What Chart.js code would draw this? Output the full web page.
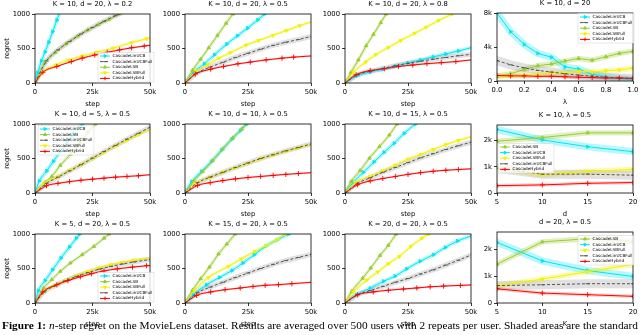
<!DOCTYPE html>
<html>
<head>
<meta charset="utf-8">
<script src="https://cdn.jsdelivr.net/npm/chart.js@4.4.0/dist/chart.umd.min.js"></script>
<style>
  body { margin: 0; width: 640px; height: 335px; overflow: hidden; position: relative; background: #fff; }
  canvas { position: absolute; }
  .cap { position: absolute; left: 2px; top: 321px; font-family: "Liberation Serif", serif; font-size: 10.6px; line-height: 1; white-space: nowrap; color: #000; transform-origin: 0 0; }
</style>
</head>
<body>
<div id="wrap"></div>
<div class="cap" id="cap"><b>Figure 1:</b> <i>n</i>-step regret on the MovieLens dataset. Results are averaged over 500 users with 2 repeats per user. Shaded areas are the standard</div>
<script>
// ---- data: [step, regret] ----
// row 1
const a_ucb  = [[0,0],[1200,150],[2800,320],[4400,450],[6000,590],[7700,745],[9500,910],[11300,1070]]
const a_ucbf = [[0,0],[5000,320],[10000,480],[15000,600],[20000,710],[25000,805],[30000,895],[35000,975],[40000,1055]]
const a_lsb  = [[0,0],[4400,300],[8800,445],[13500,570],[18500,680],[23000,770],[27500,845],[32000,920],[36500,1000],[40000,1050]]
const a_lsbf = [[0,0],[3700,165],[9000,260],[14300,330],[20500,390],[27000,445],[34000,505],[42000,585],[48500,640],[50000,655]]
const a_hyb  = [[0,0],[3400,155],[9500,240],[15800,310],[20500,360],[26000,405],[31400,445],[36800,480],[42000,510],[47500,535],[50000,548]]

const b_ucb  = [[0,0],[3300,150],[7700,280],[11700,410],[16600,565],[20800,685],[24800,795],[28900,915],[31500,1000],[34000,1080]]
const b_ucbf = [[0,0],[5000,150],[10000,230],[15000,300],[20000,370],[25000,430],[30000,490],[35000,545],[40000,590],[45000,630],[50000,675]]
const b_lsb  = [[0,0],[3000,185],[6200,345],[9400,510],[12900,690],[16300,865],[19000,1000],[21000,1100]]
const b_lsbf = [[0,0],[4400,170],[9000,265],[13500,360],[18000,440],[24300,550],[29200,615],[34900,690],[40200,760],[45500,830],[50000,885]]
const b_hyb  = [[0,0],[4100,130],[10200,200],[15300,240],[21000,278],[25900,303],[32200,335],[38500,360],[43100,375],[50000,392]]

const c_ucb  = [[0,0],[5000,110],[10000,160],[15000,200],[20000,245],[25000,290],[30000,335],[35000,380],[40000,420],[45000,465],[50000,510]]
const c_ucbf = [[0,0],[5000,120],[10000,170],[15000,210],[20000,250],[25000,285],[30000,315],[35000,345],[40000,370],[45000,395],[50000,415]]
const c_lsb  = [[0,0],[2400,155],[5300,335],[8400,540],[11300,705],[14200,875],[16300,1000],[18000,1100]]
const c_lsbf = [[0,0],[3300,155],[8200,305],[12200,410],[17200,515],[22100,615],[27600,720],[32200,808],[37100,905],[42500,1000],[45000,1050]]
const c_hyb  = [[0,0],[4400,120],[10000,180],[15600,207],[21200,240],[26900,260],[32500,280],[38200,295],[44000,310],[50000,335]]

const lambdas = [0, 0.1, 0.2, 0.3, 0.4, 0.5, 0.6, 0.7, 0.8, 0.9, 1.0]
const l_ucb  = [8000, 5800, 4300, 3250, 2800, 1650, 1400, 800, 500, 300, 100]
const l_ucbf = [2400, 1900, 1550, 1250, 1050, 850, 700, 550, 450, 350, 300]
const l_lsb  = [550, 850, 1350, 1800, 2000, 2350, 2650, 2450, 2850, 3250, 3500]
const l_lsbf = [600, 600, 650, 750, 950, 950, 1150, 1050, 1200, 1300, 1500]
const l_hyb  = [650, 600, 600, 550, 550, 500, 450, 400, 350, 350, 300]

// row 2
const e_ucb  = [[0,0],[1900,175],[5100,320],[8000,460],[11000,600],[14000,740],[17000,870],[20500,1000],[22000,1060]]
const e_lsb  = [[0,0],[4400,155],[7300,240],[11000,400],[15400,560],[19400,730],[23000,880],[26300,1000],[28000,1060]]
const e_ucbf = [[0,0],[5000,140],[10000,230],[15000,320],[20000,410],[25000,505],[30000,600],[35000,690],[40000,780],[45000,865],[50000,955]]
const e_lsbf = [[0,0],[4000,145],[10000,235],[15000,325],[20000,410],[25000,500],[30000,590],[35000,680],[40000,765],[45000,845],[50000,920]]
const e_hyb  = [[0,0],[5000,105],[10000,140],[15000,165],[20000,185],[25000,200],[30000,215],[35000,230],[40000,240],[45000,250],[50000,265]]

const f_ucb  = [[0,0],[2700,165],[6600,312],[10600,457],[14600,625],[18600,780],[22000,905],[24500,1000],[26000,1060]]
const f_lsb  = [[0,0],[3500,175],[7000,310],[11000,470],[15000,640],[19000,800],[22500,930],[24300,1000],[26000,1070]]
const f_ucbf = [[0,0],[5000,150],[10000,230],[15000,300],[20000,370],[25000,435],[30000,500],[35000,555],[40000,610],[45000,660],[50000,710]]
const f_lsbf = [[0,0],[4000,140],[10000,225],[15000,300],[20000,365],[25000,430],[30000,495],[35000,550],[40000,605],[45000,655],[50000,705]]
const f_hyb  = [[0,0],[5000,110],[10000,150],[15000,180],[20000,205],[25000,225],[30000,240],[35000,255],[40000,270],[45000,282],[50000,295]]

const g_lsb  = [[0,0],[2400,165],[6000,325],[9700,505],[13700,673],[17600,840],[20600,1000],[22000,1070]]
const g_ucb  = [[0,0],[3300,155],[7300,300],[11500,450],[15500,590],[19500,720],[23500,865],[27900,1000],[30000,1070]]
const g_lsbf = [[0,0],[4000,150],[10000,240],[15000,320],[20000,405],[25000,490],[30000,560],[35000,630],[40000,700],[45000,760],[50000,815]]
const g_ucbf = [[0,0],[5000,140],[10000,220],[15000,300],[20000,370],[25000,440],[30000,510],[35000,570],[40000,630],[45000,685],[50000,735]]
const g_hyb  = [[0,0],[5000,120],[10000,175],[15000,210],[20000,240],[25000,270],[30000,295],[35000,315],[40000,330],[45000,340],[50000,350]]

const dims = [5, 10, 15, 20]
const h_lsb  = [1980, 2120, 2300, 2300]
const h_ucb  = [2430, 2030, 1770, 1580]
const h_lsbf = [950, 700, 820, 900]
const h_ucbf = [950, 720, 720, 680]
const h_hyb  = [280, 310, 370, 400]

// row 3
const i_ucb  = [[0,0],[1500,180],[4400,325],[7700,483],[11300,652],[15000,812],[18000,940],[19400,1000],[21000,1070]]
const i_lsb  = [[0,0],[3700,215],[7300,338],[11000,460],[15400,580],[20500,700],[25600,820],[30000,940],[32200,1000],[34000,1060]]
const i_lsbf = [[0,0],[4000,175],[8000,245],[13000,320],[18000,395],[23000,455],[28000,510],[33000,555],[38000,590],[43000,620],[50000,650]]
const i_ucbf = [[0,0],[4000,160],[8000,240],[13000,320],[18000,385],[23000,440],[28000,490],[33000,530],[38000,565],[43000,595],[50000,630]]
const i_hyb  = [[0,0],[3400,160],[9500,265],[14300,325],[19700,380],[24600,425],[30000,465],[35800,495],[42400,520],[48500,540],[50000,545]]

const j_lsb  = [[0,0],[3000,185],[6200,352],[9700,520],[13300,710],[16600,855],[19900,1000],[21500,1080]]
const j_lsbf = [[0,0],[3700,180],[9300,370],[17200,530],[22300,638],[27600,748],[32200,830],[36500,918],[39800,1000],[42000,1050]]
const j_ucb  = [[0,0],[3300,120],[8600,265],[13700,370],[18600,470],[23000,580],[27500,700],[32200,828],[36500,915],[41100,1000],[43000,1040]]
const j_ucbf = [[0,0],[5000,150],[10000,230],[15000,300],[20000,370],[25000,435],[30000,500],[35000,560],[40000,615],[45000,660],[50000,705]]
const j_hyb  = [[0,0],[4600,110],[10200,160],[15900,193],[21900,217],[27000,240],[31800,256],[37100,266],[42400,280],[50000,300]]

const m_lsb  = [[0,0],[2700,170],[7000,360],[10200,507],[13900,690],[17200,836],[20300,1000],[22000,1080]]
const m_lsbf = [[0,0],[3300,160],[8600,330],[13000,450],[17200,570],[21600,675],[26100,820],[30500,940],[33200,1000],[35000,1050]]
const m_ucb  = [[0,0],[4600,120],[10000,215],[15300,315],[19900,390],[24500,495],[29800,605],[35100,700],[39800,805],[44700,900],[50000,970]]
const m_ucbf = [[0,0],[5000,120],[10000,180],[15000,240],[20000,300],[25000,355],[30000,420],[35000,480],[40000,550],[45000,620],[50000,695]]
const m_hyb  = [[0,0],[5000,120],[11200,160],[17200,185],[23200,203],[28500,218],[33800,235],[39100,245],[45800,255],[50000,262]]

const ks = [5, 10, 15, 20]
const n_lsb  = [1450, 2280, 2400, 2300]
const n_ucb  = [2260, 1570, 1210, 990]
const n_lsbf = [650, 890, 1170, 1440]
const n_ucbf = [650, 680, 720, 720]
const n_hyb  = [530, 370, 310, 250]

// tick positions
const stepTicks = [0, 25000, 50000]
const regretTicks = [0, 500, 1000]
const lamTicks = [0, 0.2, 0.4, 0.6, 0.8, 1.0]
const lamRegretTicks = [0, 4000, 8000]
const sizeTicks = [5, 10, 15, 20]
const sizeRegretTicks = [0, 1000, 2000]

// ---- look ----
const styles = {
  ucb:  { label: 'CascadeLinUCB',     color: '#00e5f5', band: 'rgba(0,225,245,0.28)',  point: 'triangle', rot: 90,  dash: [],     bw: 4 },
  ucbf: { label: 'CascadeLinUCBFull', color: '#555555', band: 'rgba(120,120,120,0.22)', point: 'line',     rot: 0,   dash: [3, 2], bw: 5 },
  lsb:  { label: 'CascadeLSB',        color: '#9acd32', band: 'rgba(154,205,50,0.3)',   point: 'triangle', rot: 0,   dash: [],     bw: 3 },
  lsbf: { label: 'CascadeLSBFull',    color: '#f2f200', band: 'rgba(240,240,0,0.3)',    point: 'triangle', rot: 180, dash: [],     bw: 3 },
  hyb:  { label: 'CascadeHybrid',     color: '#ff0000', band: 'rgba(255,0,0,0.18)',     point: 'cross',    rot: 0,   dash: [],     bw: 2 }
}
const drawOrder = ['hyb', 'ucbf', 'lsbf', 'lsb', 'ucb']
const FONT = { family: '"DejaVu Sans"', size: 6.8 }
const kfmt = v => v === 0 ? '0' : (v / 1000) + 'k'

const C1 = [35, 150], C2 = [185, 311], C3 = [345, 471], C4 = [497, 633]
const R1 = [14, 83], R2 = [124, 193], R3 = [234, 303]

const stepPanel = (col, row, title, ylabel, series, legend) => ({
  col, row, title, xlabel: 'step', ylabel, series, legend, cat: null,
  xMin: 0, xMax: 50000, xTicks: stepTicks, xFmt: kfmt, yMax: 1000, yTicks: regretTicks, yFmt: v => String(v)
})

const panels = [
  stepPanel(C1, R1, 'K = 10, d = 20, λ = 0.2', 'regret',
    { ucb: a_ucb, ucbf: a_ucbf, lsb: a_lsb, lsbf: a_lsbf, hyb: a_hyb },
    { x: 65, y: 42, keys: ['ucb', 'ucbf', 'lsb', 'lsbf', 'hyb'] }),
  stepPanel(C2, R1, 'K = 10, d = 20, λ = 0.5', '',
    { ucb: b_ucb, ucbf: b_ucbf, lsb: b_lsb, lsbf: b_lsbf, hyb: b_hyb }, null),
  stepPanel(C3, R1, 'K = 10, d = 20, λ = 0.8', '',
    { ucb: c_ucb, ucbf: c_ucbf, lsb: c_lsb, lsbf: c_lsbf, hyb: c_hyb }, null),
  { col: C4, row: [13, 81], title: 'K = 10, d = 20', xlabel: 'λ', ylabel: '', cat: lambdas,
    series: { ucb: l_ucb, ucbf: l_ucbf, lsb: l_lsb, lsbf: l_lsbf, hyb: l_hyb },
    legend: { x: 83, y: 4, keys: ['ucb', 'ucbf', 'lsb', 'lsbf', 'hyb'] },
    xMin: 0, xMax: 1, xTicks: lamTicks, xFmt: v => v.toFixed(1), yMax: 8000, yTicks: lamRegretTicks, yFmt: kfmt },

  stepPanel(C1, R2, 'K = 10, d = 5, λ = 0.5', 'regret',
    { ucb: e_ucb, ucbf: e_ucbf, lsb: e_lsb, lsbf: e_lsbf, hyb: e_hyb },
    { x: 5, y: 5, keys: ['ucb', 'lsb', 'ucbf', 'lsbf', 'hyb'] }),
  stepPanel(C2, R2, 'K = 10, d = 10, λ = 0.5', '',
    { ucb: f_ucb, ucbf: f_ucbf, lsb: f_lsb, lsbf: f_lsbf, hyb: f_hyb }, null),
  stepPanel(C3, R2, 'K = 10, d = 15, λ = 0.5', '',
    { ucb: g_ucb, ucbf: g_ucbf, lsb: g_lsb, lsbf: g_lsbf, hyb: g_hyb }, null),
  { col: C4, row: [125, 193], title: 'K = 10, λ = 0.5', xlabel: 'd', ylabel: '', cat: dims,
    series: { ucb: h_ucb, ucbf: h_ucbf, lsb: h_lsb, lsbf: h_lsbf, hyb: h_hyb },
    legend: { x: 3, y: 22, keys: ['lsb', 'ucb', 'lsbf', 'ucbf', 'hyb'] },
    xMin: 5, xMax: 20, xTicks: sizeTicks, xFmt: v => String(v), yMax: 2600, yTicks: sizeRegretTicks, yFmt: kfmt },

  stepPanel(C1, R3, 'K = 5, d = 20, λ = 0.5', 'regret',
    { ucb: i_ucb, ucbf: i_ucbf, lsb: i_lsb, lsbf: i_lsbf, hyb: i_hyb },
    { x: 65, y: 42, keys: ['ucb', 'lsb', 'lsbf', 'ucbf', 'hyb'] }),
  stepPanel(C2, R3, 'K = 15, d = 20, λ = 0.5', '',
    { ucb: j_ucb, ucbf: j_ucbf, lsb: j_lsb, lsbf: j_lsbf, hyb: j_hyb }, null),
  stepPanel(C3, R3, 'K = 20, d = 20, λ = 0.5', '',
    { ucb: m_ucb, ucbf: m_ucbf, lsb: m_lsb, lsbf: m_lsbf, hyb: m_hyb }, null),
  { col: C4, row: [232, 303], title: 'd = 20, λ = 0.5', xlabel: 'K', ylabel: '', cat: ks,
    series: { ucb: n_ucb, ucbf: n_ucbf, lsb: n_lsb, lsbf: n_lsbf, hyb: n_hyb },
    legend: { x: 83, y: 7, keys: ['lsb', 'ucb', 'lsbf', 'ucbf', 'hyb'] },
    xMin: 5, xMax: 20, xTicks: sizeTicks, xFmt: v => String(v), yMax: 2650, yTicks: sizeRegretTicks, yFmt: kfmt }
]

// frame, title and the small in-axes legend, matplotlib style
const decor = {
  id: 'decor',
  afterDatasetsDraw(chart, args, opts) {
    const { ctx, chartArea: a } = chart
    ctx.save()
    ctx.strokeStyle = '#000'
    ctx.lineWidth = 0.8
    ctx.setLineDash([])
    ctx.strokeRect(a.left, a.top, a.right - a.left, a.bottom - a.top)
    ctx.fillStyle = '#000'
    ctx.font = FONT.size + 'px ' + FONT.family
    ctx.textAlign = 'center'
    ctx.textBaseline = 'middle'
    ctx.fillText(opts.title, (a.left + a.right) / 2, a.top - 9.5)

    const lg = opts.legend
    if (lg) {
      const x0 = a.left + lg.x, y0 = a.top + lg.y, gap = 5.6
      ctx.font = '4.2px ' + FONT.family
      const tw = Math.max(...lg.keys.map(k => ctx.measureText(styles[k].label).width))
      ctx.fillStyle = 'rgba(255,255,255,0.8)'
      ctx.strokeStyle = '#d0d0d0'
      ctx.lineWidth = 0.5
      ctx.fillRect(x0 - 2, y0 - 3.5, tw + 16, lg.keys.length * gap + 1.5)
      ctx.strokeRect(x0 - 2, y0 - 3.5, tw + 16, lg.keys.length * gap + 1.5)
      lg.keys.forEach((k, i) => {
        const s = styles[k], y = y0 + i * gap
        ctx.strokeStyle = s.color
        ctx.fillStyle = s.color
        ctx.lineWidth = 1
        ctx.setLineDash(s.dash)
        ctx.beginPath(); ctx.moveTo(x0, y); ctx.lineTo(x0 + 10, y); ctx.stroke()
        ctx.setLineDash([])
        Chart.helpers.drawPoint(ctx, { pointStyle: s.point, rotation: s.rot, radius: 1.8, borderWidth: 0.8 }, x0 + 5, y)
        ctx.fillStyle = '#000'
        ctx.textAlign = 'left'
        ctx.fillText(s.label, x0 + 12.5, y)
      })
    }
    ctx.restore()
  }
}

const wrap = document.getElementById('wrap')
panels.forEach(p => {
  const L = p.col[0] === 35 ? 35 : 30, T = Math.min(14, p.row[0]), R = 12, B = 25
  const canvas = document.createElement('canvas')
  const w = p.col[1] - p.col[0] + L + R, h = p.row[1] - p.row[0] + T + B
  canvas.style.left = (p.col[0] - L) + 'px'
  canvas.style.top = (p.row[0] - T) + 'px'
  canvas.style.width = w + 'px'
  canvas.style.height = h + 'px'
  canvas.width = w
  canvas.height = h
  wrap.appendChild(canvas)

  const toXY = arr => p.cat ? arr.map((v, i) => ({ x: p.cat[i], y: v })) : arr.map(d => ({ x: d[0], y: d[1] }))
  const k4 = p.cat ? 1.8 : 1
  const hidePt = c => !p.cat && (c.dataIndex === 0 || c.raw.x >= p.xMax || c.raw.y > p.yMax)

  const datasets = []
  drawOrder.forEach(key => {
    const s = styles[key], data = toXY(p.series[key])
    datasets.push({
      data, order: 0, borderColor: s.color, backgroundColor: s.color, borderWidth: 1,
      borderDash: s.dash, cubicInterpolationMode: p.cat ? 'default' : 'monotone', tension: 0,
      pointStyle: s.point, rotation: s.rot, pointBorderWidth: 0.9,
      pointRadius: c => hidePt(c) ? 0 : (s.point === 'cross' ? 2.6 : 2),
      pointBackgroundColor: s.color, pointBorderColor: s.color
    })
    datasets.push({
      data, order: 1, borderColor: s.band, borderWidth: s.bw * k4, pointRadius: 0,
      cubicInterpolationMode: p.cat ? 'default' : 'monotone', borderCapStyle: 'round'
    })
  })

  const axisFont = { family: FONT.family, size: FONT.size }
  new Chart(canvas, {
    type: 'line',
    data: { datasets },
    plugins: [decor],
    options: {
      responsive: false,
      animation: false,
      events: [],
      layout: { padding: { top: T, right: R, left: 0, bottom: 0 } },
      plugins: {
        legend: { display: false },
        tooltip: { enabled: false },
        decor: { title: p.title, legend: p.legend }
      },
      scales: {
        x: {
          type: 'linear', min: p.xMin, max: p.xMax,
          afterBuildTicks: s => { s.ticks = p.xTicks.map(v => ({ value: v })) },
          ticks: { callback: p.xFmt, font: axisFont, color: '#000', padding: 2, maxRotation: 0, autoSkip: false },
          grid: { drawOnChartArea: false, drawTicks: true, tickLength: 3, color: '#000', lineWidth: 0.8 },
          border: { display: false },
          title: { display: true, text: p.xlabel, font: axisFont, color: '#000', padding: 0 },
          afterFit: s => { s.height = B }
        },
        y: {
          type: 'linear', min: 0, max: p.yMax,
          afterBuildTicks: s => { s.ticks = p.yTicks.map(v => ({ value: v })) },
          ticks: { callback: p.yFmt, font: axisFont, color: '#000', padding: 2 },
          grid: { drawOnChartArea: false, drawTicks: true, tickLength: 3, color: '#000', lineWidth: 0.8 },
          border: { display: false },
          title: { display: !!p.ylabel, text: p.ylabel, font: axisFont, color: '#000', padding: { top: 3, bottom: 0 } },
          afterFit: s => { s.width = L }
        }
      }
    }
  })
})

// stretch the caption line across the page width, as in the paper
const cap = document.getElementById('cap')
cap.style.transform = 'scaleX(' + (636 / cap.getBoundingClientRect().width) + ')'
</script>
</body>
</html>
